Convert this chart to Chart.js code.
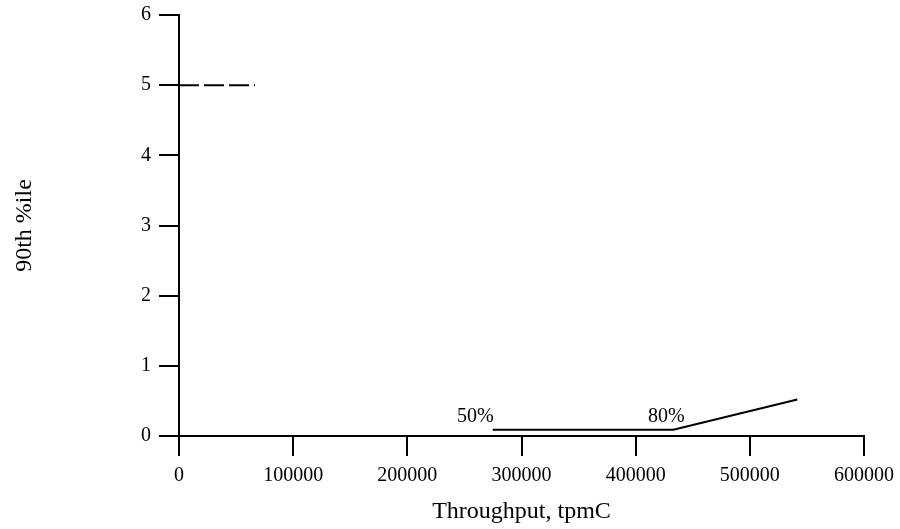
<!DOCTYPE html>
<html lang="en">
<head>
    <meta charset="UTF-8">
    <title>90th %ile vs Throughput</title>
    <script src="https://cdn.jsdelivr.net/npm/chart.js"></script>
    <style>
        body { margin: 0; background: #fff; }
        #wrap { width: 900px; height: 529px; }
    </style>
</head>
<body>
    <div id="wrap"><canvas id="chart" width="900" height="529"></canvas></div>
    <script>
        // throughput (tpmC) and 90th percentile response time
        const limitX = [0, 66600];
        const limitY = [5, 5];
        const runX = [274800, 433000, 541600];
        const runY = [0.09, 0.09, 0.52];
        const runLabels = ['50%', '80%', ''];
        const xTicks = [0, 100000, 200000, 300000, 400000, 500000, 600000];
        const yTicks = [0, 1, 2, 3, 4, 5, 6];

        const tickFont = { family: 'Liberation Serif', size: 20 };
        const titleFont = { family: 'Liberation Serif', size: 24 };

        const pointLabels = {
            id: 'pointLabels',
            afterDatasetsDraw(chart) {
                const ctx = chart.ctx;
                const xs = chart.scales.x, ys = chart.scales.y;
                ctx.save();
                ctx.font = '20px "Liberation Serif"';
                ctx.fillStyle = '#000';
                ctx.textBaseline = 'alphabetic';
                // first label sits left of its point, second centred on the bend
                ctx.textAlign = 'right';
                ctx.fillText(runLabels[0], xs.getPixelForValue(runX[0]) + 1, ys.getPixelForValue(runY[0]) - 8);
                ctx.textAlign = 'center';
                ctx.fillText(runLabels[1], xs.getPixelForValue(runX[1]) - 7, ys.getPixelForValue(runY[1]) - 8);
                ctx.restore();
            }
        };

        new Chart(document.getElementById('chart'), {
            type: 'scatter',
            data: {
                datasets: [{
                    data: limitX.map((x, i) => ({ x: x, y: limitY[i] })),
                    showLine: true,
                    borderColor: '#000',
                    borderWidth: 2,
                    borderDash: [20, 5],
                    pointRadius: 0
                }, {
                    data: runX.map((x, i) => ({ x: x, y: runY[i] })),
                    showLine: true,
                    borderColor: '#000',
                    borderWidth: 2,
                    pointRadius: 0
                }]
            },
            options: {
                responsive: false,
                animation: false,
                layout: { padding: { top: 15, right: 36, left: 0, bottom: 0 } },
                plugins: { legend: { display: false }, tooltip: { enabled: false } },
                scales: {
                    x: {
                        type: 'linear',
                        min: 0,
                        max: 600000,
                        afterBuildTicks: s => { s.ticks = xTicks.map(v => ({ value: v })); },
                        afterFit: s => { s.height = 93; s.paddingLeft = 0; s.paddingRight = 0; },
                        border: { color: '#000', width: 2 },
                        grid: { drawOnChartArea: false, tickLength: 20, color: '#000', lineWidth: 2 },
                        ticks: { color: '#000', font: tickFont, padding: 8, maxRotation: 0, callback: v => String(v) },
                        title: { display: true, text: 'Throughput, tpmC', color: '#000', font: titleFont, padding: { top: 4, bottom: 3 } }
                    },
                    y: {
                        min: 0,
                        max: 6,
                        afterBuildTicks: s => { s.ticks = yTicks.map(v => ({ value: v })); },
                        afterFit: s => { s.width = 179; s.paddingTop = 0; s.paddingBottom = 0; },
                        border: { color: '#000', width: 2 },
                        grid: { drawOnChartArea: false, tickLength: 20, color: '#000', lineWidth: 2 },
                        ticks: { color: '#000', font: tickFont, padding: 8, callback: v => String(v) },
                        title: { display: true, text: '90th %ile', color: '#000', font: titleFont, padding: { top: 10, bottom: 0 } }
                    }
                }
            },
            plugins: [pointLabels]
        });
    </script>
</body>
</html>
